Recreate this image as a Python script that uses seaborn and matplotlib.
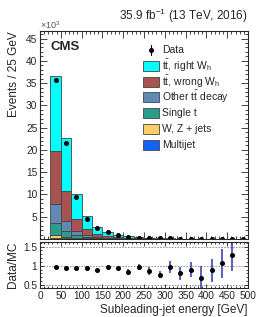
import numpy as np
import pandas as pd
import matplotlib
matplotlib.use("Agg")
import matplotlib.pyplot as plt
from matplotlib.patches import Rectangle
from matplotlib.lines import Line2D
import seaborn as sns

sns.set_theme(style="ticks")
plt.rcParams['font.family'] = ['Liberation Sans', 'DejaVu Sans']
plt.rcParams['mathtext.fontset'] = 'custom'
plt.rcParams['mathtext.rm'] = 'Liberation Sans'
plt.rcParams['mathtext.it'] = 'Liberation Sans:italic'

# ------------------------------------------------------------------
# data (events in units of 10^3, 25 GeV bins from 25 to 500 GeV)
# ------------------------------------------------------------------
edges = list(range(25, 501, 25))
centers = np.array([(lo + hi) / 2 for lo, hi in zip(edges[:-1], edges[1:])])

tt_right = [16.8, 11.8, 5.5, 2.9, 1.6, 0.9, 0.52, 0.31, 0.2, 0.14, 0.1, 0.07,
            0.05, 0.037, 0.026, 0.019, 0.014, 0.01, 0.008]
tt_wrong = [11.9, 6.8, 2.7, 1.3, 0.7, 0.4, 0.24, 0.15, 0.1, 0.07, 0.045, 0.033,
            0.025, 0.018, 0.013, 0.009, 0.007, 0.005, 0.004]
tt_other = [4.15, 2.1, 0.8, 0.4, 0.22, 0.13, 0.08, 0.05, 0.03, 0.02, 0.015, 0.01,
            0.008, 0.006, 0.004, 0.003, 0.002, 0.002, 0.001]
single_t = [2.75, 1.4, 0.7, 0.35, 0.19, 0.11, 0.07, 0.045, 0.03, 0.02, 0.012, 0.009,
            0.007, 0.005, 0.004, 0.003, 0.002, 0.002, 0.001]
wz_jets = [0.6, 0.35, 0.22, 0.11, 0.06, 0.04, 0.025, 0.015, 0.01, 0.005, 0.004, 0.004,
           0.003, 0.002, 0.002, 0.001, 0.001, 0.0005, 0.0005]
multijet = [0.3, 0.15, 0.08, 0.04, 0.03, 0.02, 0.015, 0.01, 0.01, 0.005, 0.004, 0.003,
            0.002, 0.002, 0.001, 0.001, 0.001, 0.0005, 0.0005]

data = [35.7, 21.5, 9.5, 4.6, 2.5, 1.5, 0.85, 0.47, 0.3, 0.22, 0.14, 0.12,
        0.08, 0.06, 0.035, 0.032, 0.029, 0.022, 0.015]

ratio_x = centers[:18]
ratio = [0.973, 0.947, 0.938, 0.93, 0.90, 0.965, 0.93, 0.83, 0.97, 0.86, 0.77,
         0.965, 0.81, 0.90, 0.68, 0.885, 1.06, 1.27]
ratio_err = [0.01, 0.01, 0.01, 0.012, 0.015, 0.02, 0.03, 0.08, 0.08, 0.1, 0.1,
             0.15, 0.17, 0.2, 0.32, 0.3, 0.38, 0.4]

labels = [r'$\mathrm{t\bar{t}}$, right W$_\mathrm{h}$',
          r'$\mathrm{t\bar{t}}$, wrong W$_\mathrm{h}$',
          r'Other $\mathrm{t\bar{t}}$ decay',
          'Single t', 'W, Z + jets', 'Multijet']
colors = ['#00ffff', '#a85252', '#6189b4', '#2a9d8f', '#ffcc66', '#1462f5']
series = [tt_right, tt_wrong, tt_other, single_t, wz_jets, multijet]

frames = [pd.DataFrame({'E': centers, 'w': vals, 'proc': lab})
          for vals, lab in zip(series, labels)]
mc = pd.concat(frames, ignore_index=True)

# ------------------------------------------------------------------
# figure (layout worked out in pixels)
# ------------------------------------------------------------------
W, H = 266, 317
fig = plt.figure(figsize=(W / 100, H / 100), dpi=100)
ax = fig.add_axes([40 / W, 1 - 239 / H, 208 / W, 208 / H])
rax = fig.add_axes([40 / W, 1 - 288 / H, 208 / W, 46 / H])

sns.histplot(data=mc, x='E', weights='w', hue='proc', hue_order=labels,
             palette=colors, multiple='stack', bins=edges, element='bars',
             edgecolor='#444444', linewidth=0.6, alpha=1, legend=False, ax=ax)
ax.errorbar(centers, data, yerr=np.sqrt(np.array(data) / 1000.0), fmt='o',
            color='black', ms=2.6, elinewidth=0.8, capsize=0)

ax.set_xlim(0, 500)
ax.set_ylim(0, 46.7)
ax.set_yticks(np.arange(5, 46, 5))
ax.set_xticks(np.arange(0, 501, 50))
ax.set_xticklabels([])
ax.set_xlabel('')
ax.set_ylabel('Events / 25 GeV', loc='top', fontsize=8.5, labelpad=4)

rax.errorbar(ratio_x, ratio, yerr=ratio_err, fmt='o', color='black',
             ecolor='#2b35b0', ms=2.6, elinewidth=1.1, capsize=0)
for yv in (0.5, 1.0, 1.5):
    rax.axhline(yv, color='#888888', ls=(0, (2, 1.5)), lw=0.6, zorder=0)
rax.set_xlim(0, 500)
rax.set_ylim(0.42, 1.62)
rax.set_yticks([0.5, 1, 1.5])
rax.set_yticklabels(['0.5', '1', '1.5'])
rax.set_xticks(np.arange(0, 501, 50))
rax.set_ylabel('Data/MC', fontsize=8.5, labelpad=3)
rax.set_xlabel('Subleading-jet energy [GeV]', loc='right', fontsize=8.5, labelpad=2)

for a in (ax, rax):
    a.tick_params(which='both', direction='in', top=True, right=True,
                  labelsize=7.3, width=0.6, pad=2)
    a.xaxis.set_minor_locator(matplotlib.ticker.MultipleLocator(10))
    for s in a.spines.values():
        s.set_linewidth(0.8)
ax.yaxis.set_minor_locator(matplotlib.ticker.MultipleLocator(1))
rax.yaxis.set_minor_locator(matplotlib.ticker.MultipleLocator(0.1))
ax.tick_params(which='major', length=5)
ax.tick_params(which='minor', length=2.5)
rax.tick_params(which='major', length=3)
rax.tick_params(which='minor', length=1.5)

fig.text(248 / W, 1 - 20 / H, r'35.9 fb$^{-1}$ (13 TeV, 2016)', ha='right',
         va='baseline', fontsize=8.5)
fig.text(40 / W, 1 - 29 / H, r'$\times$10$^3$', ha='left', va='baseline',
         fontsize=6.5, color='#555555')
ax.text(0.05, 0.95, 'CMS', transform=ax.transAxes, ha='left', va='top',
        fontsize=9.5, fontweight='bold')

# legend, placed by hand so the rows are evenly spaced
row_y = 50
fig.add_artist(Line2D([151 / W], [1 - row_y / H], marker='o', color='black',
                      ms=2.6, transform=fig.transFigure))
fig.add_artist(Line2D([151 / W, 151 / W], [1 - (row_y - 5) / H, 1 - (row_y + 5) / H],
                      color='black', lw=0.8, transform=fig.transFigure))
fig.text(162 / W, 1 - row_y / H, 'Data', ha='left', va='center', fontsize=7.5)
for i, (lab, col) in enumerate(zip(labels, colors)):
    y = row_y + 15.8 * (i + 1)
    fig.add_artist(Rectangle((143 / W, 1 - (y + 5) / H), 16 / W, 10 / H,
                             facecolor=col, edgecolor='#444444', lw=0.6,
                             transform=fig.transFigure))
    fig.text(162 / W, 1 - y / H, lab, ha='left', va='center', fontsize=7.5)

fig.savefig('out.png', dpi=100)
